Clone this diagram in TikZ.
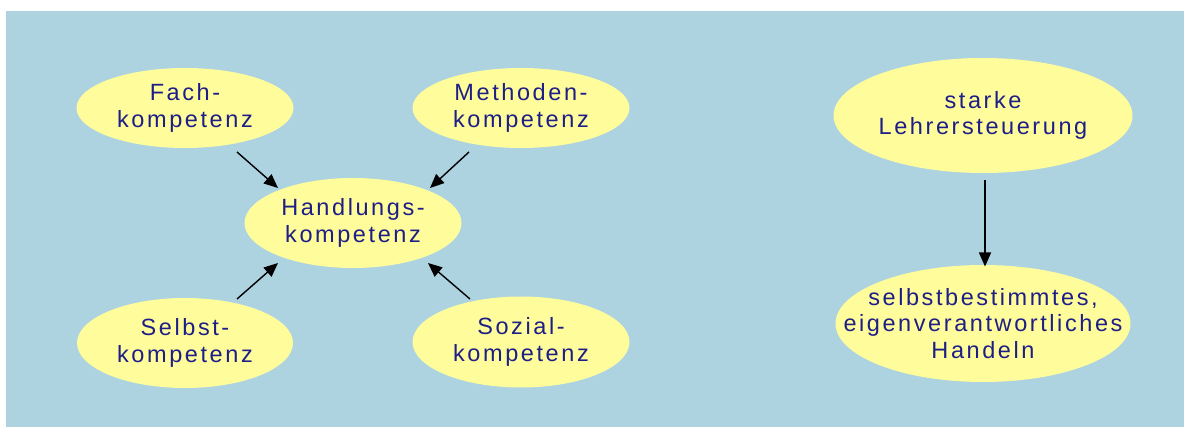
\documentclass[tikz,border=0pt]{standalone}
\usepackage{fontspec}
\setmainfont{Liberation Sans}[LetterSpace=11]
\usetikzlibrary{shapes.geometric,arrows.meta,calc}
\definecolor{bgblue}{RGB}{173,211,224}
\definecolor{bubyellow}{RGB}{255,252,155}
\definecolor{navytext}{RGB}{30,30,135}
\tikzset{
  bub/.style={ellipse, fill=bubyellow, draw=none, inner xsep=-45pt, inner ysep=-15pt, align=center,
    text=navytext, font=\fontsize{23.5}{26.5}\selectfont},
  arr/.style={-{Triangle[length=14pt,width=12pt]}, line width=1.4pt, black}
}
\begin{document}
\begin{tikzpicture}[x=1pt,y=-1pt]
\useasboundingbox (0,0) rectangle (1184,427);
\fill[bgblue] (6,11) rectangle (1184,427);
\node[bub, minimum width=217pt, minimum height=80pt] (fach) at (185,108) {Fach-\\kompetenz};
\node[bub, minimum width=217pt, minimum height=80pt] (meth) at (521,108) {Methoden-\\kompetenz};
\node[bub, minimum width=217pt, minimum height=90pt] (hand) at (353,223) {Handlungs-\\kompetenz};
\node[bub, minimum width=216pt, minimum height=90pt] (selbst) at (185,343) {Selbst-\\kompetenz};
\node[bub, minimum width=217pt, minimum height=91pt] (sozial) at (521,342) {Sozial-\\kompetenz};
\node[bub, minimum width=299pt, minimum height=115pt] (starke) at (983,115.5) {starke\\Lehrersteuerung};
\node[bub, minimum width=295pt, minimum height=117pt] (handeln) at (983,323.5) {selbstbestimmtes,\\eigenverantwortliches\\Handeln};
\draw[arr] ($(fach.center)+(52,44)$) -- ($(hand.center)+(-75,-35)$);
\draw[arr] ($(meth.center)+(-52,44)$) -- ($(hand.center)+(77,-35)$);
\draw[arr] ($(selbst.center)+(52,-44)$) -- ($(hand.center)+(-75,40)$);
\draw[arr] ($(sozial.center)+(-51,-43)$) -- ($(hand.center)+(75,40)$);
\draw[arr] ($(starke.center)+(2,64.5)$) -- ($(handeln.center)+(2,-57)$);
\end{tikzpicture}
\end{document}
